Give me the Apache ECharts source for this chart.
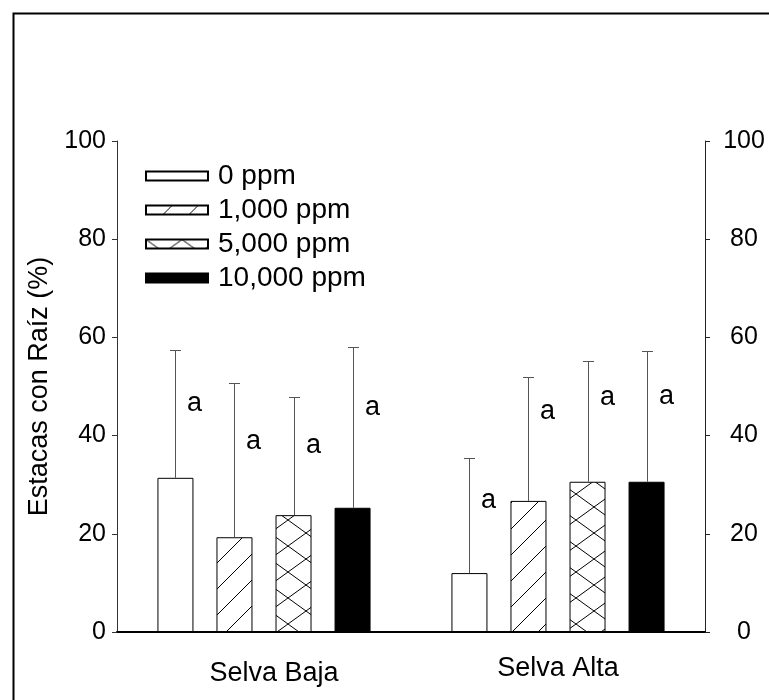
<!DOCTYPE html>
<html>
<head>
<meta charset="utf-8">
<script src="https://cdn.jsdelivr.net/npm/echarts@6/dist/echarts.min.js"></script>
<style>
html,body{margin:0;padding:0;background:#fff;}
#chart{width:769px;height:700px;}
</style>
</head>
<body>
<div id="chart"></div>
<script>
// ---- data ----
const categories = ['Selva Baja', 'Selva Alta'];
const seriesNames = ['0 ppm', '1,000 ppm', '5,000 ppm', '10,000 ppm'];
const mean0 = [31.4, 12.0];
const mean1000 = [19.3, 26.7];
const mean5000 = [23.8, 30.6];
const mean10000 = [25.3, 30.6];
const err0 = [26.0, 23.5];
const err1000 = [31.4, 25.2];
const err5000 = [24.1, 24.6];
const err10000 = [32.7, 26.6];
const letters0 = ['a', 'a'];
const letters1000 = ['a', 'a'];
const letters5000 = ['a', 'a'];
const letters10000 = ['a', 'a'];
const letterY0 = [46.6, 26.7];
const letterY1000 = [38.7, 44.8];
const letterY5000 = [37.9, 47.7];
const letterY10000 = [45.8, 47.9];
const yTicks = [0, 20, 40, 60, 80, 100];

// ---- patterns ----
function makeCanvas(w, h) { const c = document.createElement('canvas'); c.width = w; c.height = h; return c; }
function hatchPattern() {
  const s = 26, c = makeCanvas(s, s), g = c.getContext('2d');
  g.fillStyle = '#fff'; g.fillRect(0, 0, s, s);
  g.strokeStyle = '#000'; g.lineWidth = 1;
  g.beginPath();
  g.moveTo(-2, s + 2); g.lineTo(s + 2, -2);
  g.moveTo(-s / 2 - 2, s / 2 + 2); g.lineTo(s / 2 + 2, -s / 2 - 2);
  g.moveTo(s / 2 - 2, s * 1.5 + 2); g.lineTo(s * 1.5 + 2, s / 2 - 2);
  g.stroke();
  return c;
}
function crossPattern() {
  const w = 36, h = 26, c = makeCanvas(w, h), g = c.getContext('2d');
  g.fillStyle = '#fff'; g.fillRect(0, 0, w, h);
  g.strokeStyle = '#000'; g.lineWidth = 1;
  g.beginPath();
  g.moveTo(0, 0); g.lineTo(w, h);
  g.moveTo(0, h); g.lineTo(w, 0);
  g.stroke();
  return c;
}
const fills = [
  '#ffffff',
  { image: hatchPattern(), repeat: 'repeat' },
  { image: crossPattern(), repeat: 'repeat' },
  '#000000'
];

const means = [mean0, mean1000, mean5000, mean10000];
const errs = [err0, err1000, err5000, err10000];
const letters = [letters0, letters1000, letters5000, letters10000];
const letterYs = [letterY0, letterY1000, letterY5000, letterY10000];

const BAR_W = 36, BAR_GAP = 0.64;
const PITCH = BAR_W * (1 + BAR_GAP);
const FONT = "'Liberation Sans', Arial, sans-serif";

const barSeries = seriesNames.map((name, k) => ({
  name: name,
  type: 'bar',
  barWidth: BAR_W,
  barGap: (BAR_GAP * 100) + '%',
  itemStyle: { color: fills[k], borderColor: '#000', borderWidth: 1 },
  data: means[k],
  z: 2
}));

const errData = [];
means.forEach((arr, k) => arr.forEach((m, i) => {
  errData.push([i, k, m, errs[k][i], letterYs[k][i], letters[k][i]]);
}));

const errSeries = {
  type: 'custom',
  z: 3,
  silent: true,
  data: errData,
  renderItem: function (params, api) {
    const cat = api.value(0), k = api.value(1), m = api.value(2), e = api.value(3), ly = api.value(4);
    const txt = errData[params.dataIndex][5];
    const base = api.coord([cat, m]);
    const top = api.coord([cat, m + e]);
    const ly2 = api.coord([cat, ly]);
    const x = Math.round(base[0] + (k - 1.5) * PITCH) + 0.5;
    const ty = Math.round(top[1]) + 0.5;
    const stroke = { stroke: '#555', lineWidth: 1 };
    return {
      type: 'group',
      children: [
        { type: 'line', shape: { x1: x, y1: base[1], x2: x, y2: ty }, style: stroke },
        { type: 'line', shape: { x1: x - 5.5, y1: ty, x2: x + 5.5, y2: ty }, style: stroke },
        { type: 'text', x: x + 19, y: ly2[1], style: { text: txt, fill: '#000', font: '27px ' + FONT, align: 'center', verticalAlign: 'middle' } }
      ]
    };
  }
};

// per-category label nudges (style only)
const catLabelPadding = [[5, 0, 0, 20], [0, 0, 0, 0]];

const chart = echarts.init(document.getElementById('chart'), null, { renderer: 'canvas' });
chart.setOption({
  animation: false,
  backgroundColor: '#fff',
  textStyle: { fontFamily: FONT },
  graphic: [{
    type: 'rect', left: 11, top: 11, z: 100, silent: true,
    shape: { x: 0, y: 0, width: 800, height: 800 },
    style: { fill: 'none', stroke: '#000', lineWidth: 2 }
  }],
  legend: {
    orient: 'vertical',
    left: 145, top: 162,
    padding: 0,
    itemWidth: 62, itemHeight: 9,
    itemGap: 6,
    icon: 'rect',
    data: seriesNames,
    textStyle: { fontSize: 28, color: '#000', fontFamily: FONT, padding: [0, 0, 0, 5] }
  },
  grid: { left: 117, right: 64, top: 141, bottom: 68, containLabel: false },
  xAxis: [{
    type: 'category',
    data: categories.map((c, i) => ({ value: c, textStyle: { padding: catLabelPadding[i] } })),
    axisLine: { show: true, lineStyle: { color: '#000', width: 2 } },
    axisTick: { show: false },
    axisLabel: { fontSize: 27, color: '#000', margin: 23, fontFamily: FONT },
    splitLine: { show: false }
  }, {
    type: 'category',
    position: 'top',
    data: categories,
    axisLine: { show: true, lineStyle: { color: '#000', width: 1 } },
    axisTick: { show: false },
    axisLabel: { show: false }
  }],
  yAxis: [{
    type: 'value',
    min: yTicks[0], max: yTicks[yTicks.length - 1], interval: yTicks[1] - yTicks[0],
    position: 'left',
    name: 'Estacas con Raíz (%)',
    nameLocation: 'middle',
    nameGap: 54,
    nameTextStyle: { fontSize: 27, color: '#000', fontFamily: FONT },
    axisLine: { show: true, lineStyle: { color: '#333', width: 1 } },
    axisTick: { show: true, inside: false, length: 5, lineStyle: { color: '#333' } },
    axisLabel: { fontSize: 25, color: '#000', margin: 11, fontFamily: FONT },
    splitLine: { show: false }
  }, {
    type: 'value',
    min: yTicks[0], max: yTicks[yTicks.length - 1], interval: yTicks[1] - yTicks[0],
    position: 'right',
    axisLine: { show: true, lineStyle: { color: '#222', width: 1 } },
    axisTick: { show: true, inside: false, length: 5, lineStyle: { color: '#222' } },
    axisLabel: { fontSize: 25, color: '#000', margin: 39, align: 'center', fontFamily: FONT },
    splitLine: { show: false }
  }],
  series: barSeries.concat([errSeries])
});
</script>
</body>
</html>
